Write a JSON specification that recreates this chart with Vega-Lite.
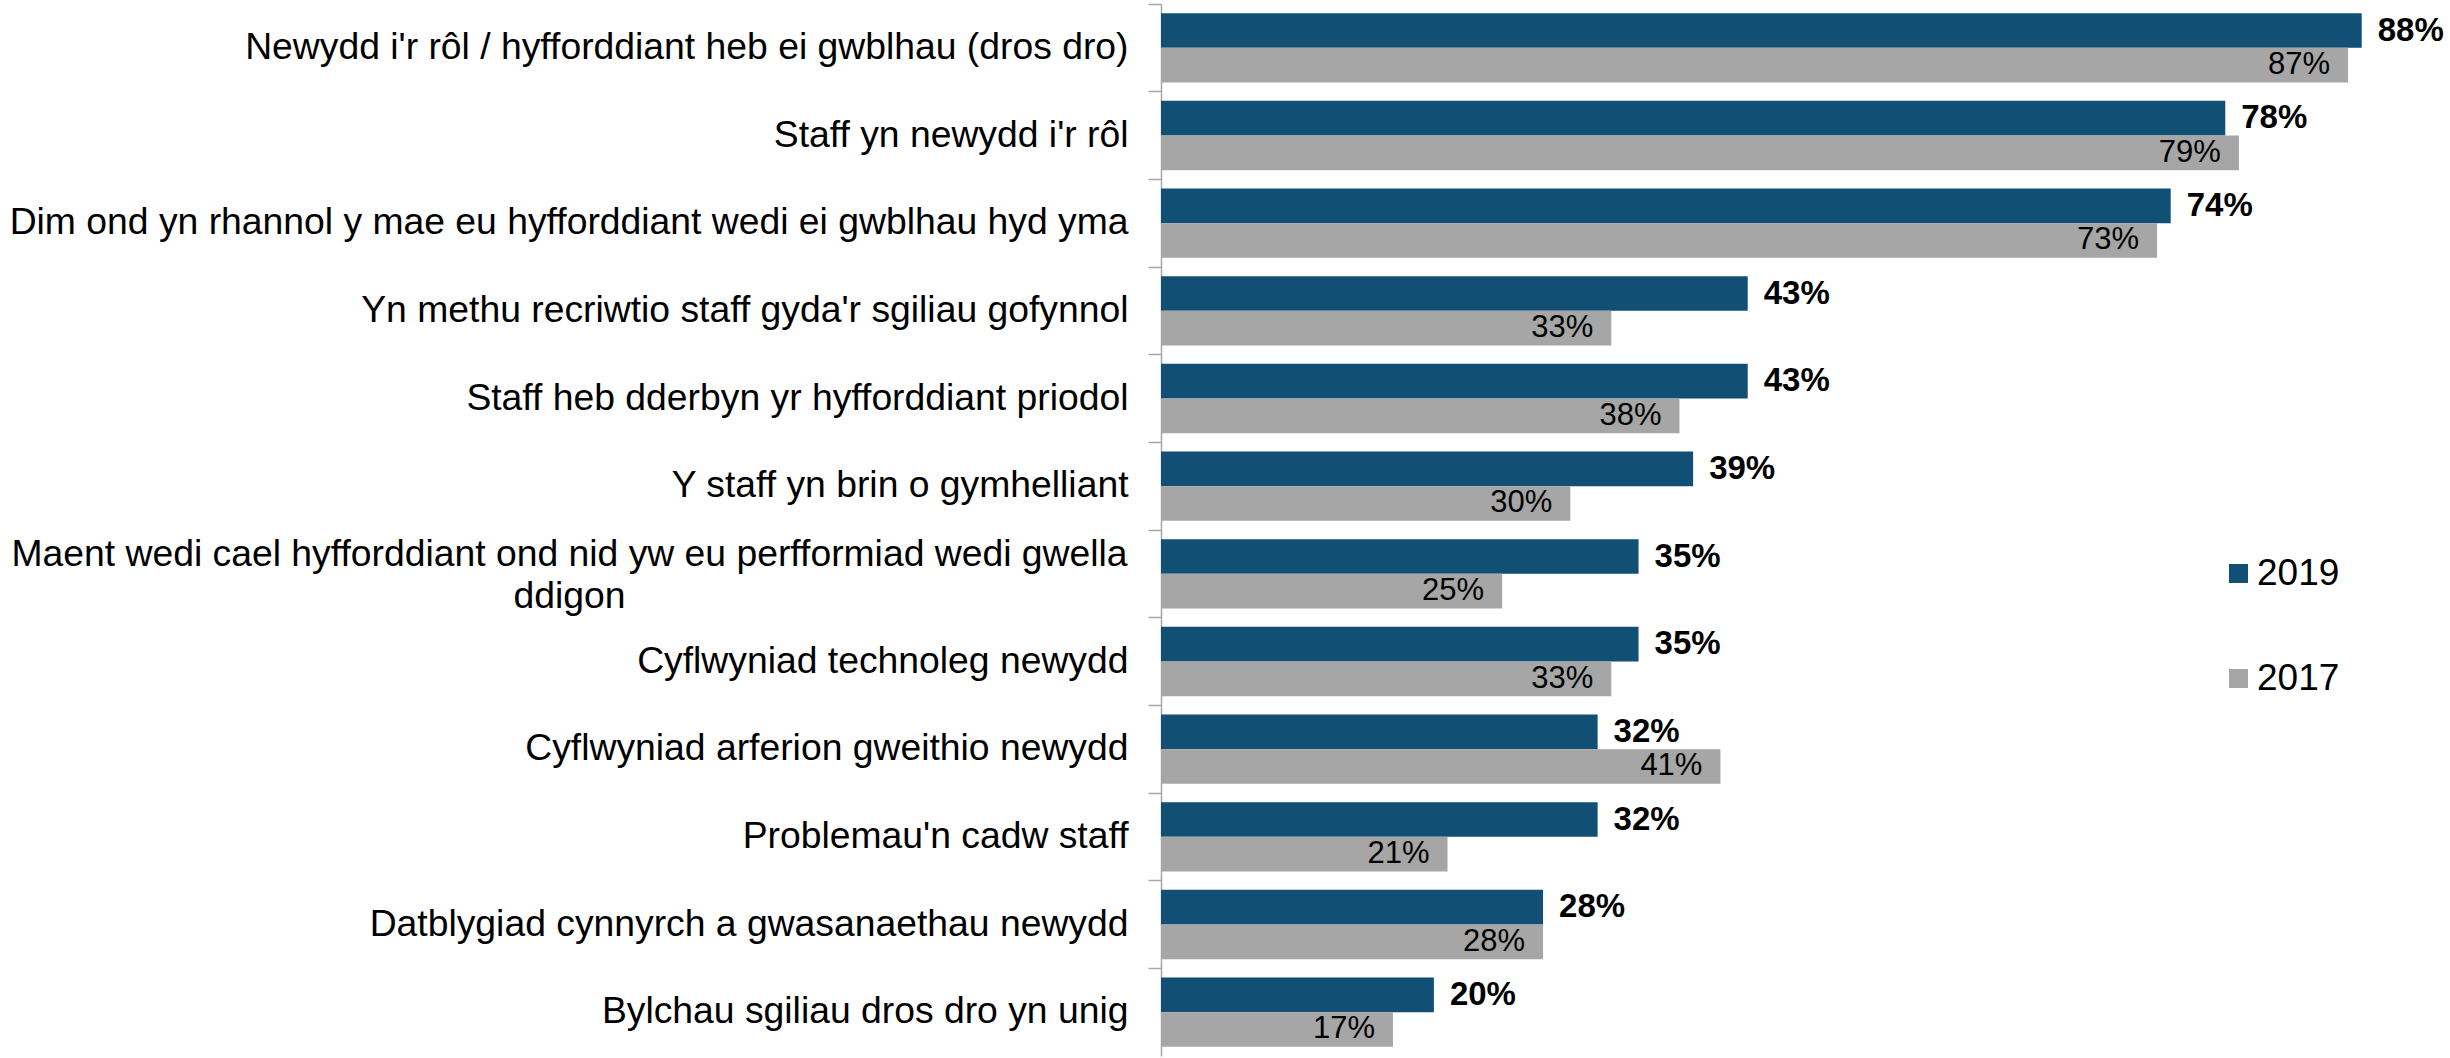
{
  "$schema": "https://vega.github.io/schema/vega-lite/v6.json",
  "width": 1228,
  "height": 1052,
  "autosize": "none",
  "padding": {"left": 1161, "top": 4, "right": 61, "bottom": 2},
  "background": "white",
  "config": {"font": "Liberation Sans", "view": {"stroke": null}},
  "data": {
    "values": [
      {"cat": "Newydd i'r rôl / hyfforddiant heb ei gwblhau (dros dro)", "year": "2019", "value": 0.88},
      {"cat": "Newydd i'r rôl / hyfforddiant heb ei gwblhau (dros dro)", "year": "2017", "value": 0.87},
      {"cat": "Staff yn newydd i'r rôl", "year": "2019", "value": 0.78},
      {"cat": "Staff yn newydd i'r rôl", "year": "2017", "value": 0.79},
      {"cat": "Dim ond yn rhannol y mae eu hyfforddiant wedi ei gwblhau hyd yma", "year": "2019", "value": 0.74},
      {"cat": "Dim ond yn rhannol y mae eu hyfforddiant wedi ei gwblhau hyd yma", "year": "2017", "value": 0.73},
      {"cat": "Yn methu recriwtio staff gyda'r sgiliau gofynnol", "year": "2019", "value": 0.43},
      {"cat": "Yn methu recriwtio staff gyda'r sgiliau gofynnol", "year": "2017", "value": 0.33},
      {"cat": "Staff heb dderbyn yr hyfforddiant priodol", "year": "2019", "value": 0.43},
      {"cat": "Staff heb dderbyn yr hyfforddiant priodol", "year": "2017", "value": 0.38},
      {"cat": "Y staff yn brin o gymhelliant", "year": "2019", "value": 0.39},
      {"cat": "Y staff yn brin o gymhelliant", "year": "2017", "value": 0.30},
      {"cat": "Maent wedi cael hyfforddiant ond nid yw eu perfformiad wedi gwella|ddigon", "year": "2019", "value": 0.35},
      {"cat": "Maent wedi cael hyfforddiant ond nid yw eu perfformiad wedi gwella|ddigon", "year": "2017", "value": 0.25},
      {"cat": "Cyflwyniad technoleg newydd", "year": "2019", "value": 0.35},
      {"cat": "Cyflwyniad technoleg newydd", "year": "2017", "value": 0.33},
      {"cat": "Cyflwyniad arferion gweithio newydd", "year": "2019", "value": 0.32},
      {"cat": "Cyflwyniad arferion gweithio newydd", "year": "2017", "value": 0.41},
      {"cat": "Problemau'n cadw staff", "year": "2019", "value": 0.32},
      {"cat": "Problemau'n cadw staff", "year": "2017", "value": 0.21},
      {"cat": "Datblygiad cynnyrch a gwasanaethau newydd", "year": "2019", "value": 0.28},
      {"cat": "Datblygiad cynnyrch a gwasanaethau newydd", "year": "2017", "value": 0.28},
      {"cat": "Bylchau sgiliau dros dro yn unig", "year": "2019", "value": 0.20},
      {"cat": "Bylchau sgiliau dros dro yn unig", "year": "2017", "value": 0.17}
    ]
  },
  "encoding": {
    "y": {
      "field": "cat",
      "type": "nominal",
      "sort": null,
      "scale": {"paddingInner": 0, "paddingOuter": 0},
      "axis": {
        "title": null,
        "domainColor": "#a6a6a6",
        "domainWidth": 1.5,
        "tickColor": "#a6a6a6",
        "tickWidth": 1.5,
        "tickSize": 13,
        "bandPosition": 0,
        "labelFont": "Liberation Sans",
        "labelFontSize": 37.3,
        "labelColor": "#000000",
        "labelLimit": 0,
        "labelLineHeight": 42,
        "labelExpr": "split(datum.label, '|')",
        "labelPadding": {"condition": {"test": "indexof(datum.value, '|') >= 0", "value": 579}, "value": 20},
        "labelAlign": {"condition": {"test": "indexof(datum.value, '|') >= 0", "value": "center"}, "value": "right"},
        "labelBaseline": {"condition": {"test": "indexof(datum.value, '|') >= 0", "value": "bottom"}, "value": "middle"}
      }
    },
    "yOffset": {
      "field": "year",
      "type": "nominal",
      "scale": {"domain": ["2019", "2017"], "paddingInner": 0, "paddingOuter": 0.265}
    },
    "x": {
      "field": "value",
      "type": "quantitative",
      "scale": {"domain": [0, 0.9]},
      "axis": null
    }
  },
  "layer": [
    {
      "mark": {"type": "bar"},
      "encoding": {
        "color": {
          "field": "year",
          "type": "nominal",
          "scale": {"domain": ["2019", "2017"], "range": ["#114f75", "#a6a6a6"]},
          "legend": {
            "title": null,
            "orient": "none",
            "legendX": 1059,
            "legendY": 551,
            "direction": "vertical",
            "padding": 0,
            "symbolType": "square",
            "symbolSize": 361,
            "symbolStrokeWidth": 0,
            "labelFont": "Liberation Sans",
            "labelFontSize": 37,
            "labelColor": "#000000",
            "labelOffset": 0,
            "rowPadding": 67
          }
        }
      }
    },
    {
      "transform": [{"filter": "datum.year === '2019'"}],
      "mark": {"type": "text", "align": "left", "baseline": "middle", "dx": 16, "fontWeight": "bold", "fontSize": 33, "font": "Liberation Sans", "color": "#000000"},
      "encoding": {"text": {"field": "value", "type": "quantitative", "format": ".0%"}}
    },
    {
      "transform": [{"filter": "datum.year === '2017'"}],
      "mark": {"type": "text", "align": "right", "baseline": "middle", "dx": -18, "fontSize": 31, "font": "Liberation Sans", "color": "#000000"},
      "encoding": {"text": {"field": "value", "type": "quantitative", "format": ".0%"}}
    }
  ]
}
